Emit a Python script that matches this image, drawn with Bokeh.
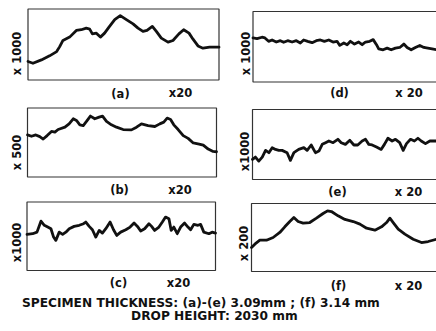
from bokeh.plotting import figure
from bokeh.layouts import column, row
from bokeh.models import Range1d, Label
from bokeh.embed import file_html
from bokeh.resources import INLINE

# ---- profile data (x: % of trace length, y: relative height %) ----
a_x = [0, 2.6, 7, 11.3, 15, 16.6, 18.3, 21.8, 25.3, 27.9, 30.5, 32.3, 33.7, 35.8, 37.9, 40.1, 42.4,
       45.4, 48.3, 51.5, 55, 57.6, 60.2, 62.3, 65.1, 67.2, 69.8, 73.3, 75.9, 79, 81.5, 84.3, 86.4,
       89, 91.6, 95.1, 100]
a_y = [26, 23.6, 28.3, 34, 40, 47, 55.7, 60.4, 69.8, 70.8, 73, 71.7, 65, 66, 60.4, 66, 74.5,
       85, 90.6, 85, 79, 73, 68.4, 69.8, 75.5, 68.4, 59, 53.3, 55.7, 65, 70.8, 66, 57.5,
       48, 44.8, 46.2, 46.2]

b_x = [0, 2.1, 4.4, 6.5, 8.3, 10.4, 12.7, 14.5, 16.2, 19.8, 22.0, 24.2, 25.9, 27.7, 29.5, 31.2,
       33.3, 35.6, 37.9, 39.7, 41.8, 44.4, 47.1, 50.6, 55, 57.7, 60.3, 63.8, 67.4, 70, 72.1, 73.9,
       75.7, 77.4, 79.7, 82.4, 85, 87.7, 90.8, 93, 95.6, 98.2, 100]
b_y = [61, 59, 61, 58.5, 55, 60, 66, 65, 68.8, 72.2, 77, 84.4, 82, 75.6, 74.6, 80.5,
       88.3, 84.4, 86.8, 88.3, 80.5, 75.6, 72.2, 68.8, 68.3, 72.2, 77, 74.6, 73.2, 77, 79.5, 85.4,
       83.4, 75.6, 68.8, 60, 56, 49.3, 47.8, 46.3, 40.5, 37, 36.6]

c_x = [0, 3, 5.3, 7.4, 9.2, 11, 12.7, 14.1, 15.3, 17.1, 18.9, 20.6, 22.4, 25, 27.7, 30, 31.2,
       33, 34.7, 36.5, 38.3, 40, 41.8, 44.1, 45.9, 47.6, 49.7, 52.4, 54.7, 56.8, 58.6, 60.3, 62.4,
       64.7, 66.1, 67.7, 70, 71.8, 73.5, 75.3, 76.5, 77.9, 79.7, 81.5, 83.6, 85.4, 86.8, 88.5,
       90.7, 92.1, 93.8, 96.5, 98.2, 100]
c_y = [52.7, 53.7, 56, 72, 66, 63.4, 61, 48.8, 44, 56, 52.7, 56, 61, 64.4, 66, 68.3, 70.7,
       64.4, 59.5, 48.8, 58.5, 54.6, 61, 70.7, 59.5, 51.2, 56, 59.5, 63.4, 69.3, 64.4, 57.6, 61,
       68.3, 64.4, 58.5, 63.4, 70.7, 78, 75.6, 58.5, 63.4, 53.7, 63.4, 69.3, 63.4, 59.5, 67.3,
       66, 67.3, 56, 53.7, 56, 54.6]

d_x = [0, 2.2, 4.9, 6.5, 8.5, 10.4, 12.7, 14.9, 16.7, 18.9, 21.3, 23.6, 25.8, 27.6, 29.8, 32.2,
       34.5, 36.7, 38.9, 41.3, 43.6, 45.8, 47.3, 49.5, 51.3, 53.1, 55.3, 57.6, 59.5, 61.3, 63.6,
       65.5, 67.3, 68.5, 70.9, 73.1, 75.3, 77.6, 80, 82.2, 84, 86.2, 88.5, 90.9, 93.1, 95.3, 97.6, 100]
d_y = [62.5, 61.5, 63.5, 62.5, 57.7, 59.6, 56.7, 58.6, 56.3, 58.6, 56.7, 58.6, 55.3, 59.6, 57.7,
       55.8, 58.6, 59.6, 57.7, 59.6, 56.7, 57.7, 51.9, 55.3, 52.9, 57.7, 53.8, 56.7, 52.9, 56.7,
       57.7, 60.1, 52.9, 47.1, 45.7, 48.1, 45.7, 48.1, 49, 53.8, 49, 45.7, 49, 51.9, 49, 48.1, 47.1, 45.7]

e_x = [0, 1.6, 3.4, 5.3, 7.1, 8.9, 10.7, 12.5, 14.3, 16.1, 18.8, 20.6, 22.5, 25.1, 27.9, 29.7,
       31.9, 34.2, 36.1, 37.9, 39.7, 41.5, 43.8, 46.4, 48.2, 50.5, 52.9, 55.1, 57.2, 59.6, 61.4,
       63.2, 65, 67.4, 69.9, 71.7, 73.6, 75.9, 77.7, 80, 81.9, 83.7, 85.9, 88, 89.9, 91.7, 94, 96.4, 100]
e_y = [28.7, 32, 26.3, 32, 41.6, 38.3, 45.5, 43, 41.6, 41.6, 38.3, 27.3, 38.3, 43, 45.5, 41.6,
       49.3, 38.3, 40.7, 50.2, 52.6, 55, 52.6, 57.4, 52.6, 50.2, 56, 49.3, 49.3, 55, 57.4,
       50.2, 49.3, 46.4, 43, 50.2, 58.9, 55, 57.4, 52.6, 41.6, 51.2, 57.4, 55, 58.9, 55, 51.2, 55, 55]

f_x = [0, 1.8, 4.5, 8.1, 11.7, 15.3, 18, 20.7, 22.9, 25.2, 27.9, 31.5, 35.1, 38.7, 41.1, 43.2,
       46.8, 50.5, 55, 58.6, 62.2, 66.7, 70.3, 73, 74.8, 76.6, 79.3, 82.9, 87.4, 91.9, 95.5, 100]
f_y = [35.3, 40.2, 46, 46, 50, 57.4, 65.7, 73.5, 79.4, 73.5, 71.1, 72, 78.4, 85.3, 89.2, 88.2,
       81.9, 76.5, 73.5, 69.6, 63.7, 60.8, 65.7, 72, 78.4, 72, 62.3, 54.9, 47.5, 42.6, 44.1, 47.5]

panel_ids = ["(a)", "(b)", "(c)", "(d)", "(e)", "(f)"]
vert_mags = ["x 1000", "x 500", "x1000", "x 1000", "x1000", "x 200"]
horiz_mags = ["x20", "x20", "x20", "x 20", "x 20", "x 20"]
caption_lines = ["SPECIMEN  THICKNESS: (a)-(e) 3.09mm ; (f) 3.14 mm",
                 "DROP  HEIGHT: 2030 mm"]

FONT = "DejaVu Sans"
INK = "#111111"
FRAME = "#333333"

# layout geometry in page pixels: figure box (x0, y0, w, h), trace box (l, r, t, b), label centres
GEOM = [
    dict(fig=(0, 0, 236, 101), box=(27.5, 218.5, 8.5, 79.5), v=(16, 53), i=(120, 93), h=(180, 92)),
    dict(fig=(0, 101, 236, 96), box=(27, 216, 107.5, 176.5), v=(16.5, 152), i=(119, 189), h=(179.5, 189)),
    dict(fig=(0, 197, 236, 95), box=(26.5, 215, 201.5, 270), v=(16, 242), i=(118, 282), h=(178, 282)),
    dict(fig=(236, 0, 200, 102), box=(252.5, 436, 11, 81.5), v=(245, 53), i=(339, 92), h=(408.5, 92)),
    dict(fig=(236, 102, 200, 97), box=(252, 436, 109, 179), v=(244, 151), i=(337, 191), h=(408, 191)),
    dict(fig=(236, 199, 200, 93), box=(251, 436, 203, 271), v=(243, 243), i=(338, 285), h=(408, 285)),
]


def panel(xs, ys, pid, vmag, hmag, g, open_right):
    fx, fy, fw, fh = g["fig"]
    bl, br, bt, bb = g["box"]
    x0, x1 = min(xs), max(xs)
    kx = (x1 - x0) / (br - bl)
    ky = 100.0 / (bb - bt)
    xr = Range1d(x0 - (bl - fx) * kx, x0 + (fx + fw - bl) * kx)
    yr = Range1d(-(fy + fh - bb) * ky, 100 + (bt - fy) * ky)
    p = figure(width=fw, height=fh, toolbar_location=None, output_backend="svg",
               x_range=xr, y_range=yr, x_axis_location=None, y_axis_location=None,
               min_border_left=0, min_border_right=0, min_border_top=0, min_border_bottom=0)
    p.grid.visible = False
    p.outline_line_color = None
    p.background_fill_color = "white"
    p.border_fill_color = "white"
    # trace box; an open-right box runs past the figure edge like the cropped original
    right = xr.end + 3 * kx if open_right else x1
    p.quad(left=[x0], right=[right], bottom=[0], top=[100], fill_color=None,
           line_color=FRAME, line_width=1.2)
    p.line(xs, ys, line_color=INK, line_width=2.8, line_join="round", line_cap="round")

    def lab(txt, pos, angle=0):
        p.add_layout(Label(x=pos[0] - fx, y=fy + fh - pos[1], x_units="screen", y_units="screen",
                           text=txt, angle=angle, angle_units="deg", text_align="center",
                           text_baseline="middle", text_font=FONT, text_font_size="11.5px",
                           text_font_style="bold", text_color=INK))
    lab(vmag, g["v"], 90)
    lab(pid, g["i"])
    lab(hmag, g["h"])
    return p


series = [(a_x, a_y), (b_x, b_y), (c_x, c_y), (d_x, d_y), (e_x, e_y), (f_x, f_y)]
panels = [panel(s[0], s[1], panel_ids[k], vert_mags[k], horiz_mags[k], GEOM[k], k >= 3)
          for k, s in enumerate(series)]

CAP_Y0, CAP_H = 292, 39
cap = figure(width=436, height=CAP_H, toolbar_location=None, output_backend="svg",
             x_range=Range1d(0, 436), y_range=Range1d(0, CAP_H),
             x_axis_location=None, y_axis_location=None,
             min_border_left=0, min_border_right=0, min_border_top=0, min_border_bottom=0)
cap.grid.visible = False
cap.outline_line_color = None
for txt, (cx, cy) in zip(caption_lines, [(202.5, 302), (216, 315)]):
    cap.add_layout(Label(x=cx, y=CAP_Y0 + CAP_H - cy, x_units="screen", y_units="screen",
                         text=txt, text_align="center", text_baseline="middle", text_font=FONT,
                         text_font_size="12.2px", text_font_style="bold", text_color=INK))

layout = column(row(column(*panels[:3], spacing=0), column(*panels[3:], spacing=0), spacing=0),
                cap, spacing=0)

open("out.html", "w").write(file_html(layout, INLINE))
